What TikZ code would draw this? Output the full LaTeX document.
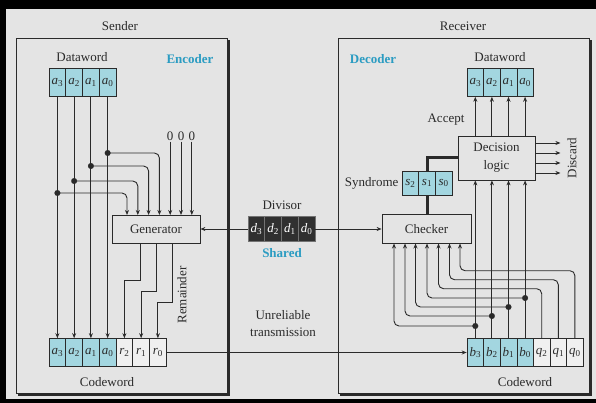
\documentclass[tikz,border=0pt]{standalone}
\usepackage{fontspec}
\setmainfont{Liberation Serif}
\usetikzlibrary{arrows.meta}
\definecolor{bgc}{RGB}{228,228,228}
\definecolor{cellc}{RGB}{163,214,224}
\definecolor{labc}{RGB}{43,156,194}
\definecolor{darkc}{RGB}{48,48,48}
\definecolor{whc}{RGB}{240,240,240}
\definecolor{inkc}{RGB}{42,42,42}
\newcommand\cv[2]{\textit{#1}\textsubscript{#2}}
\newcommand\boxshadow[4]{\filldraw[fill=inkc, draw=inkc, line width=0.1pt] ({#1+1.8},{#2+1.8}) rectangle ({#3+1.8},{#4+1.8});}
\tikzset{
 ln/.style={line width=0.9pt, draw=inkc},
 arr/.style={ln, -{Stealth[length=5pt,width=4pt]}},
 rc/.style={rounded corners=5pt},
 cell/.style={draw=inkc, line width=0.6pt, fill=cellc, minimum width=16.75pt, minimum height=28pt, inner sep=0pt, text=inkc},
 wcell/.style={cell, fill=whc},
 dcell/.style={cell, fill=darkc, text=white, draw=black!55, minimum height=25pt},
 scell/.style={cell, minimum height=24pt},
 sbox/.style={draw=inkc, line width=0.8pt, fill=bgc, inner sep=0pt, text=inkc},
 dot/.style={circle, fill=inkc, draw=inkc, line width=0.1pt, inner sep=0pt, minimum size=5.8pt},
 lbl/.style={text=inkc, inner sep=1pt},
 cyanlbl/.style={text=labc, inner sep=1pt, font=\fontsize{13}{15}\selectfont\bfseries},
 ground/.style={fill=bgc, draw=bgc, line width=0.1pt},
 frame/.style={fill=black, draw=black, line width=0.1pt},
}
\begin{document}
\begin{tikzpicture}[x=1pt,y=-1pt, font=\fontsize{13}{15}\selectfont]
\useasboundingbox (0,0) rectangle (596,403);
% page ground and outer black frame
\filldraw[ground] (0,0) rectangle (596,403);
\filldraw[frame] (0,0) rectangle (596,8);
\filldraw[frame] (0,0) rectangle (5,403);
\filldraw[frame] (0,399) rectangle (596,403);

% shadows of the boxes
\boxshadow{16}{38}{227}{393}
\boxshadow{338}{38}{589}{393}
\boxshadow{112}{215}{200}{243}
\boxshadow{458}{136}{535}{180}
\boxshadow{382}{214.5}{471}{243.5}

% outer boxes
\node[sbox, minimum width=211pt, minimum height=355pt] (sender) at (121.5,215.5) {};
\node[sbox, minimum width=251pt, minimum height=355pt] (receiver) at (463.5,215.5) {};
\node[lbl] (sndlbl) at (120,26) {Sender};
\node[lbl] (rcvlbl) at (463,26) {Receiver};
\node[cyanlbl] (enc) at (190,59) {Encoder};
\node[cyanlbl] (dec) at (373,59) {Decoder};

% sender dataword and codeword
\foreach \n [count=\k from 0] in {3,2,1,0}
  \node[cell] (sd\n) at ({57.4+16.75*\k},82.5) {\cv{a}{\n}};
\node[lbl] (sdlbl) at (82,57) {Dataword};
\foreach \n [count=\k from 0] in {3,2,1,0}
  \node[cell] (sca\n) at ({57.4+16.75*\k},352.5) {\cv{a}{\n}};
\foreach \n [count=\k from 4] in {2,1,0}
  \node[wcell] (scr\n) at ({57.4+16.75*\k},352.5) {\cv{r}{\n}};
\node[lbl] (sclbl) at (107,382) {Codeword};

% generator
\node[sbox, minimum width=88pt, minimum height=28pt] (gen) at (156,229) {Generator};
\foreach \k in {1,...,7} \coordinate (gin\k) at ({127+10.8*(\k-1)},215);

\foreach \n in {3,2,1,0} \draw[arr] (sd\n.south) -- (sca\n.north);
\node[dot] (da3) at (57.4,193) {};
\node[dot] (da2) at (74.15,181) {};
\node[dot] (da1) at (90.9,166) {};
\node[dot] (da0) at (107.65,153) {};
\draw[arr,rc] (da3.center) -| (gin1);
\draw[arr,rc] (da2.center) -| (gin2);
\draw[arr,rc] (da1.center) -| (gin3);
\draw[arr,rc] (da0.center) -| (gin4);
\foreach \k in {5,6,7} {
  \node[lbl] (z\k) at ({127+10.8*(\k-1)},136) {0};
  \draw[arr] (z\k.south) -- (gin\k);
}

% remainder
\coordinate (go1) at (140,243);
\coordinate (go2) at (156,243);
\coordinate (go3) at (172,243);
\draw[arr] (go1) -- ++(0,37) -| (scr2.north);
\draw[arr] (go2) -- ++(0,48) -| (scr1.north);
\draw[arr] (go3) -- ++(0,59) -| (scr0.north);
\node[lbl, rotate=90] (rem) at (182,295) {Remainder};

% divisor
\foreach \n [count=\k from 0] in {3,2,1,0}
  \node[dcell] (dv\n) at ({256.4+16.75*\k},229) {\cv{d}{\n}};
\node[lbl] (dvlbl) at (282,205) {Divisor};
\node[cyanlbl] (shared) at (282,253) {Shared};

% receiver codeword and dataword
\foreach \n [count=\k from 0] in {3,2,1,0}
  \node[cell, minimum width=16.6pt] (rb\n) at ({475.3+16.6*\k},352.5) {\cv{b}{\n}};
\foreach \n [count=\k from 4] in {2,1,0}
  \node[wcell, minimum width=16.6pt] (rq\n) at ({475.3+16.6*\k},352.5) {\cv{q}{\n}};
\node[lbl] (rclbl) at (525,382) {Codeword};
\foreach \n [count=\k from 0] in {3,2,1,0}
  \node[cell, minimum width=16.6pt] (rd\n) at ({475.3+16.6*\k},82.5) {\cv{a}{\n}};
\node[lbl] (rdlbl) at (500,57) {Dataword};

% decision logic
\node[sbox, minimum width=77pt, minimum height=44pt, align=center] (dl) at (496.5,158) {Decision\\[3pt]logic};
\node[lbl] (acc) at (446,120) {Accept};
\foreach \n in {3,2,1,0} \draw[arr] (dl.north -| rd\n) -- (rd\n.south);
\foreach \n in {3,2,1,0} \draw[arr] (rb\n.north) -- (rb\n |- dl.south);
\foreach \s in {15,5,-5,-15} \draw[arr] ([yshift=\s pt]dl.east) -- ++(25,0);
\node[lbl, rotate=90] (disc) at (572,158) {Discard};

% checker and syndrome
\node[sbox, minimum width=89pt, minimum height=29pt] (chk) at (426.5,229) {Checker};
\foreach \n [count=\k from 0] in {2,1,0}
  \node[scell] (s\n) at ({410.3+16.7*\k},183) {\cv{s}{\n}};
\node[lbl, anchor=east] (synlbl) at ([xshift=-2pt]s2.west) {Syndrome};
\draw[line width=3pt, draw=inkc] (s1.north) |- (dl.west);
\draw[line width=3pt, draw=inkc] (s1.south) -- (s1 |- chk.north);

\draw[arr] (dv3.west) -- (gen.east);
\draw[arr] (dv0.east) -- (chk.west);
\draw[arr] (scr0.east) -- (rb3.west);
\node[lbl, align=center] (unrel) at (283,324) {Unreliable\\[2pt]transmission};

\coordinate (ci1) at (394,243.5);
\coordinate (ci2) at (405,243.5);
\coordinate (ci3) at (415.5,243.5);
\coordinate (ci4) at (427,243.5);
\coordinate (ci5) at (438.5,243.5);
\coordinate (ci6) at (449.5,243.5);
\coordinate (ci7) at (460,243.5);
\node[dot] (db3) at (475.3,326) {};
\node[dot] (db2) at (491.9,316) {};
\node[dot] (db1) at (508.5,307) {};
\node[dot] (db0) at (525.1,298) {};
\draw[arr,rc] (db3.center) -| (ci1);
\draw[arr,rc] (db2.center) -| (ci2);
\draw[arr,rc] (db1.center) -| (ci3);
\draw[arr,rc] (db0.center) -| (ci4);
\draw[arr,rc] (rq2.north) -- ++(0,-49.5) -| (ci5);
\draw[arr,rc] (rq1.north) -- ++(0,-58.5) -| (ci6);
\draw[arr,rc] (rq0.north) -- ++(0,-67.5) -| (ci7);
\end{tikzpicture}
\end{document}
